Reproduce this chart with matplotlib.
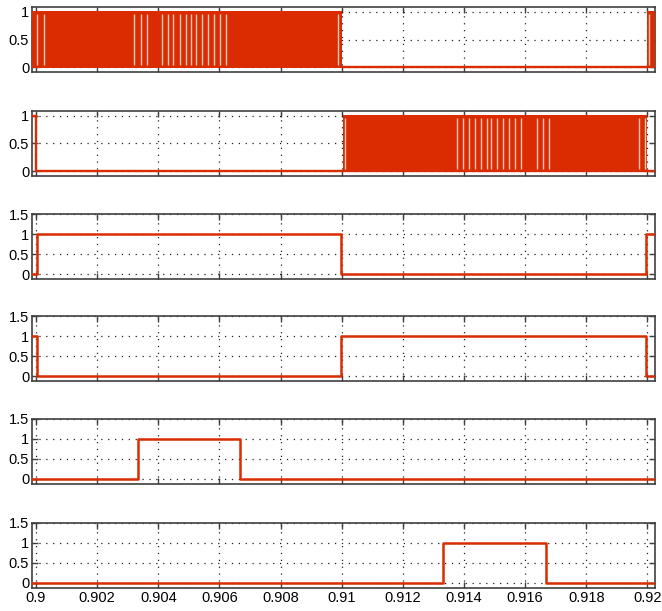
import numpy as np
import matplotlib.pyplot as plt
from matplotlib.ticker import FuncFormatter

plt.rcParams['font.family'] = ['Liberation Sans Narrow', 'Liberation Sans', 'DejaVu Sans']

# dados
x_ticks = [0.9, 0.902, 0.904, 0.906, 0.908, 0.91, 0.912, 0.914, 0.916, 0.918, 0.92]

# paineis 1 e 2: rajadas PWM (inicio, fim) e falhas brancas visiveis
rajadas_1 = [(0.89987, 0.91001), (0.91998, 0.92025)]
falhas_1 = [0.90004, 0.90026, 0.90322, 0.90343, 0.90362, 0.90413, 0.90431,
            0.90449, 0.90470, 0.90490, 0.90506, 0.90524, 0.90543, 0.90562,
            0.90581, 0.90601, 0.90621, 0.90987, 0.92004]
rajadas_2 = [(0.91003, 0.91998)]
falhas_2 = [0.91011, 0.91376, 0.91396, 0.91416, 0.91435, 0.91455, 0.91475,
            0.91488, 0.91507, 0.91527, 0.91547, 0.91566, 0.91586, 0.91638,
            0.91658, 0.91677, 0.91973, 0.91992]
# fora das rajadas
pulso_2_t = [0.89987, 0.89999, 0.92025]
pulso_2_v = [1, 0, 0]

# paineis 3 a 6: sinais em degrau (tempos de troca, niveis)
t_3 = [0.89987, 0.90002, 0.90999, 0.91997, 0.92025]
v_3 = [0, 1, 0, 1, 1]
t_4 = [0.89987, 0.90002, 0.90999, 0.91997, 0.92025]
v_4 = [1, 0, 1, 0, 0]
t_5 = [0.89987, 0.90333, 0.90667, 0.92025]
v_5 = [0, 1, 0, 0]
t_6 = [0.89987, 0.91333, 0.91667, 0.92025]
v_6 = [0, 1, 0, 0]

vermelho = '#DA2C00'
cor_eixo = '#404040'

fig = plt.figure(figsize=(6.62, 6.11), dpi=100)
H = 611.0
W = 662.0
fundos = [72, 176, 279, 381, 484, 588]
eixos = []
for b in fundos:
    ax = fig.add_axes([32 / W, 1 - b / H, 623 / W, 65 / H])
    eixos.append(ax)

def estilo(ax, limite_y, ticks_y, rotulos_x=False):
    ax.set_xlim(0.89987, 0.92025)
    ax.set_ylim(*limite_y)
    ax.set_xticks(x_ticks)
    ax.set_yticks(ticks_y)
    ax.yaxis.set_major_formatter(FuncFormatter(lambda v, p: '%g' % v))
    if rotulos_x:
        ax.xaxis.set_major_formatter(FuncFormatter(lambda v, p: '%g' % round(v, 4)))
    else:
        ax.set_xticklabels([])
    ax.tick_params(direction='in', top=True, right=True, length=4, width=1,
                   color=cor_eixo, labelsize=10.5, pad=2)
    ax.grid(True, color='#202020', linestyle=(0, (1, 4.5)), linewidth=0.9)
    for s in ax.spines.values():
        s.set_color(cor_eixo)
        s.set_linewidth(1.2)

def desenha_pwm(ax, rajadas, falhas):
    for a, b in rajadas:
        ax.fill_between([a, b], [-0.02, -0.02], [1.02, 1.02], color=vermelho,
                        linewidth=0, zorder=3)
    ax.vlines(falhas, 0.03, 0.97, color='white', linewidth=1.0, alpha=0.75, zorder=4)

# painel 1
ax = eixos[0]
ax.plot([0.91001, 0.91998], [0, 0], color=vermelho, lw=1.7, zorder=3)
desenha_pwm(ax, rajadas_1, falhas_1)
estilo(ax, (-0.09, 1.09), [0, 0.5, 1])

# painel 2
ax = eixos[1]
ax.step(pulso_2_t, pulso_2_v, where='post', color=vermelho, lw=1.7, zorder=3)
desenha_pwm(ax, rajadas_2, falhas_2)
estilo(ax, (-0.09, 1.09), [0, 0.5, 1])

# paineis 3 a 6
for ax, t, v in zip(eixos[2:], [t_3, t_4, t_5, t_6], [v_3, v_4, v_5, v_6]):
    ax.step(t, v, where='post', color=vermelho, lw=1.8, zorder=3)
    estilo(ax, (-0.125, 1.5), [0, 0.5, 1, 1.5], rotulos_x=(ax is eixos[-1]))

fig.savefig('out.png', dpi=100)
